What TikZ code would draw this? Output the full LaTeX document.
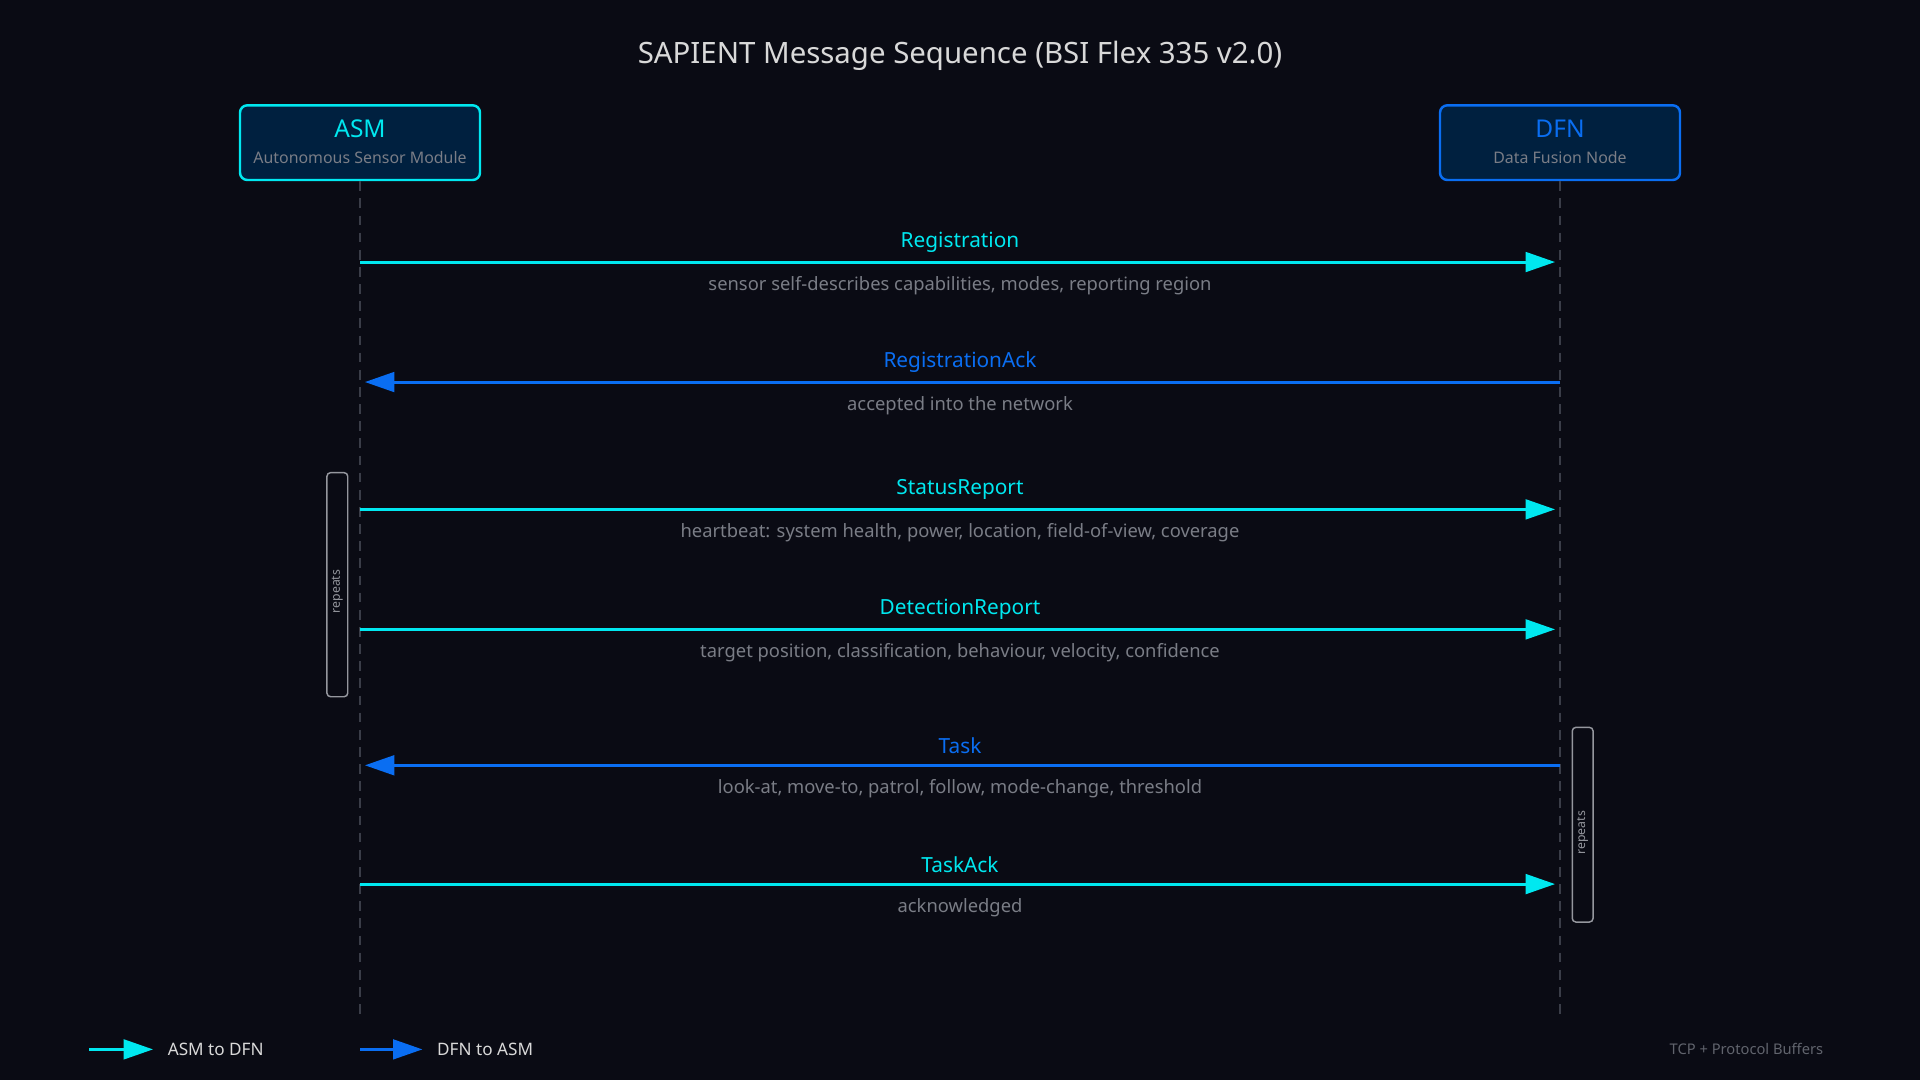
\documentclass[tikz,border=0pt]{standalone}
\usepackage{fontspec}
\setmainfont{Noto Sans}
\usetikzlibrary{positioning,arrows.meta}
\definecolor{bg}{HTML}{0A0B14}
\definecolor{asmcol}{HTML}{00E8F0}
\definecolor{dfncol}{HTML}{0A6EF2}
\definecolor{boxfill}{HTML}{00203F}
\definecolor{dimtext}{HTML}{7A7D86}
\definecolor{lifecol}{HTML}{3A3D48}
\tikzset{
  party/.style={draw=#1, fill=boxfill, line width=1pt, rounded corners=3pt, minimum width=98pt, minimum height=30.5pt},
  msg/.style={line width=1.2pt, -{Triangle[length=12pt,width=8pt]}},
  msglabel/.style={font=\bfseries\fontsize{8.5}{10}\selectfont},
  msgdesc/.style={text=dimtext, font=\fontsize{7.5}{9}\selectfont},
  loopbar/.style={draw=dimtext!80, rounded corners=1.5pt, line width=0.6pt}
}
\begin{document}
\begin{tikzpicture}[x=0.5pt, y=-0.5pt]
  \fill[bg] (0,0) rectangle (1568,882);
  \node[text=white!85!black, font=\bfseries\fontsize{12}{14}\selectfont] (title) at (784,46) {SAPIENT Message Sequence (BSI Flex 335 v2.0)};
  % participants
  \node[party=asmcol] (asm) at (294,116.5) {};
  \node[text=asmcol, font=\bfseries\fontsize{10}{12}\selectfont] (asmname) at (294,105) {ASM};
  \node[text=dimtext, font=\fontsize{6.5}{8}\selectfont] (asmsub) at (294,129) {Autonomous Sensor Module};
  \node[party=dfncol] (dfn) at (1274,116.5) {};
  \node[text=dfncol, font=\bfseries\fontsize{10}{12}\selectfont] (dfnname) at (1274,105) {DFN};
  \node[text=dimtext, font=\fontsize{6.5}{8}\selectfont] (dfnsub) at (1274,129) {Data Fusion Node};
  % lifelines
  \coordinate (asmend) at (294,828);
  \coordinate (dfnend) at (1274,828);
  \draw[lifecol, dashed, dash pattern=on 4pt off 3pt, line width=0.5pt] (asm.south) -- (asmend);
  \draw[lifecol, dashed, dash pattern=on 4pt off 3pt, line width=0.5pt] (dfn.south) -- (dfnend);
  % repeat bars
  \draw[loopbar] (267,386) rectangle (284,569);
  \node[rotate=90, text=dimtext!80, font=\fontsize{5}{6}\selectfont] (rep1) at (275.5,483) {repeats};
  \draw[loopbar] (1284,594) rectangle (1301,753);
  \node[rotate=90, text=dimtext!80, font=\fontsize{5}{6}\selectfont] (rep2) at (1292.5,680) {repeats};
  % messages
  \foreach \y/\name/\desc/\dir in {
      214/Registration/{sensor self-describes capabilities, modes, reporting region}/0,
      312/RegistrationAck/{accepted into the network}/1,
      416/StatusReport/{heartbeat: system health, power, location, field-of-view, coverage}/0,
      514/DetectionReport/{target position, classification, behaviour, velocity, confidence}/0,
      625/Task/{look-at, move-to, patrol, follow, mode-change, threshold}/1,
      722/TaskAck/{acknowledged}/0}{
    \coordinate (l\y) at (294,\y);
    \coordinate (r\y) at (1274,\y);
    \ifnum\dir=0
      \draw[msg, asmcol, shorten >=2pt] (l\y) -- (r\y);
      \node[msglabel, text=asmcol] at (784,\y-16) {\name};
    \else
      \draw[msg, dfncol, shorten >=2pt] (r\y) -- (l\y);
      \node[msglabel, text=dfncol] at (784,\y-16) {\name};
    \fi
    \node[msgdesc] at (784,\y+19) {\desc};
  }
  % legend
  \coordinate (lg1a) at (73,857); \coordinate (lg1b) at (125,857);
  \coordinate (lg2a) at (294,857); \coordinate (lg2b) at (345,857);
  \draw[msg, asmcol] (lg1a) -- (lg1b);
  \node[anchor=west, text=white!85!black, font=\fontsize{7}{8}\selectfont] (lg1) at (130,857) {ASM to DFN};
  \draw[msg, dfncol] (lg2a) -- (lg2b);
  \node[anchor=west, text=white!85!black, font=\fontsize{7}{8}\selectfont] (lg2) at (350,857) {DFN to ASM};
  \node[anchor=east, text=lifecol!80!white, font=\fontsize{6}{7}\selectfont] (proto) at (1496,857) {TCP + Protocol Buffers};
\end{tikzpicture}
\end{document}
